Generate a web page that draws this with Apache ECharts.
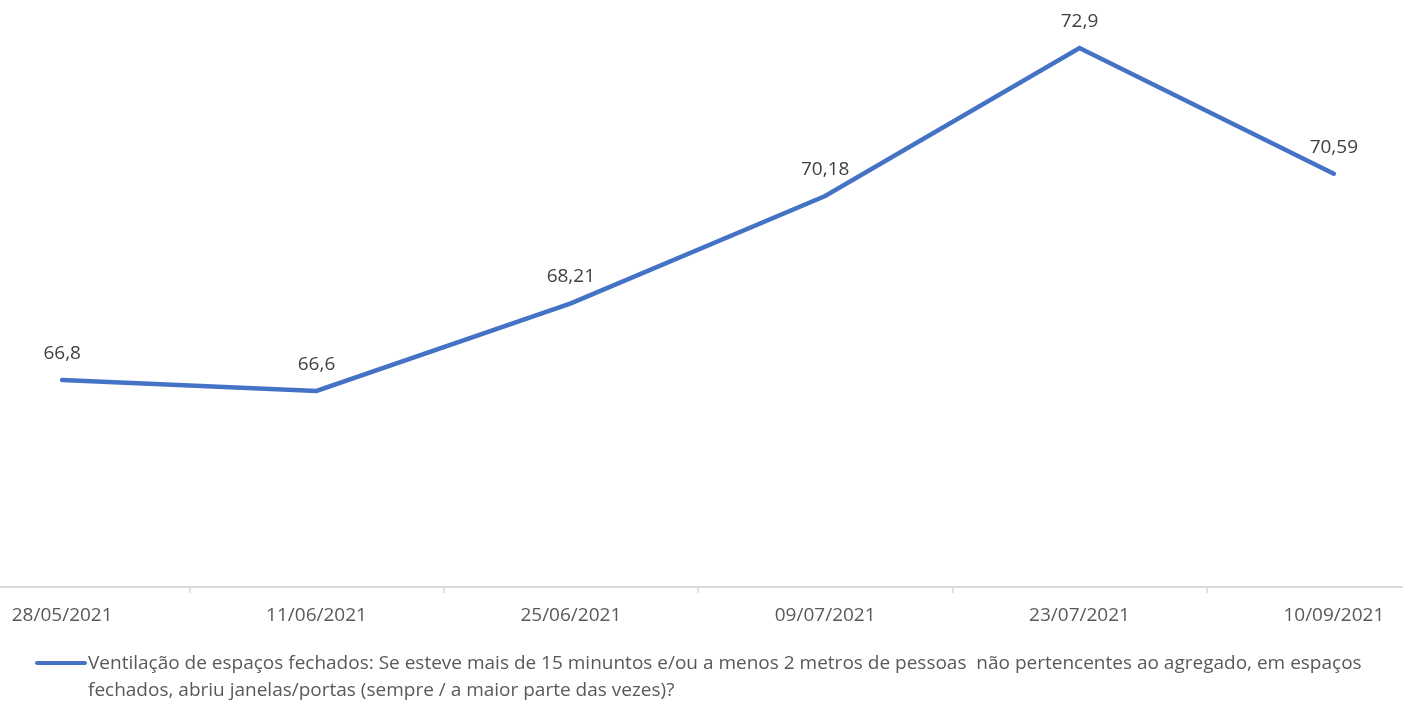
<!DOCTYPE html>
<html>
<head>
<meta charset="utf-8">
<script src="https://cdn.jsdelivr.net/npm/echarts@6/dist/echarts.min.js"></script>
<style>html,body{margin:0;padding:0;background:#fff;overflow:hidden;width:1403px;height:703px}#c{width:1526px;height:703px;margin-left:-65px}</style>
</head>
<body>
<div id="c"></div>
<script>
const categories = ['28/05/2021','11/06/2021','25/06/2021','09/07/2021','23/07/2021','10/09/2021'];
const values = [66.8, 66.6, 68.21, 70.18, 72.9, 70.59];
const seriesName = 'Ventilação de espaços fechados: Se esteve mais de 15 minuntos e/ou a menos 2 metros de pessoas  não pertencentes ao agregado, em espaços\nfechados, abriu janelas/portas (sempre / a maior parte das vezes)?';
const yMin = 63, yMax = 73;

const FONT = 'Open Sans';
const OFF = 65;
const chart = echarts.init(document.getElementById('c'));
chart.setOption({
  animation: false,
  grid: { left: 0, right: 0, top: 42.5, bottom: 116, containLabel: false },
  xAxis: {
    type: 'category',
    data: categories,
    boundaryGap: true,
    axisLine: { lineStyle: { color: '#d9d9d9', width: 2 } },
    axisTick: { show: true, length: 6, lineStyle: { color: '#d9d9d9', width: 1.5 } },
    axisLabel: { color: '#595959', fontFamily: FONT, fontSize: 19, margin: 19 }
  },
  yAxis: {
    type: 'value', min: yMin, max: yMax, show: false,
    splitLine: { show: false }
  },
  series: [{
    name: seriesName,
    type: 'line',
    data: values,
    symbol: 'circle',
    symbolSize: 2,
    showSymbol: true,
    lineStyle: { color: '#4472C4', width: 4.5, cap: 'round', join: 'miter' },
    itemStyle: { color: 'rgba(68,114,196,0)', borderWidth: 0 },
    label: {
      show: true, position: 'top', distance: 16,
      color: '#404040', fontFamily: FONT, fontSize: 19, opacity: 1,
      formatter: p => String(p.value).replace('.', ',')
    }
  }],
  graphic: [
    { type: 'line', shape: { x1: 37 + OFF, y1: 663, x2: 85 + OFF, y2: 663 }, style: { stroke: '#4472C4', lineWidth: 4, lineCap: 'round' } },
    { type: 'text', left: 88 + OFF, top: 650, style: { text: seriesName, fill: '#595959', font: '19px "Open Sans"', lineHeight: 27 } }
  ]
});
</script>
</body>
</html>
